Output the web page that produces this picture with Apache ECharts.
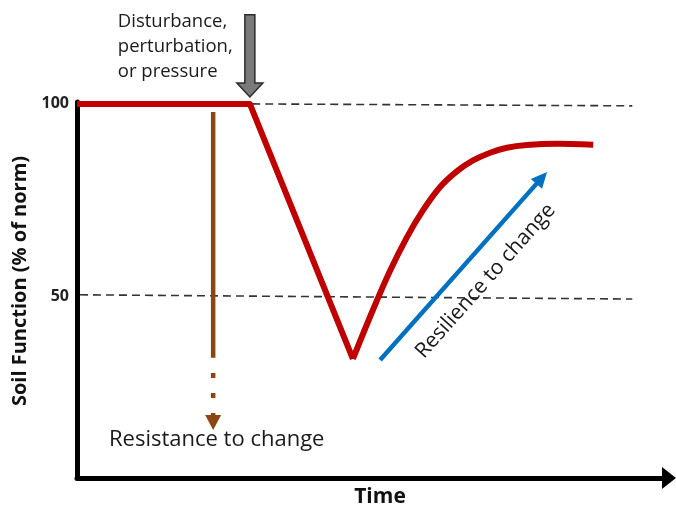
<!DOCTYPE html>
<html><head><meta charset="utf-8">
<script src="https://cdn.jsdelivr.net/npm/echarts@6/dist/echarts.min.js"></script>
<style>html,body{margin:0;padding:0;background:#fff}#c{width:676px;height:506px}</style>
</head><body><div id="c"></div>
<script>
// ---- data (time in arbitrary units 0..100, soil function in % of norm) ----
const yTickValues = [50, 100];
const declineX = [0, 29.2, 46.6];
const declineY = [100, 100, 33.6];
const recoveryX = [46.6, 50.0, 52.9, 55.7, 58.4, 61.3, 64.2, 66.9, 69.8, 72.6, 76.0, 81.1, 87.2];
const recoveryY = [33.6, 46.4, 56.6, 65.2, 72.2, 78.3, 82.5, 85.3, 87.3, 88.6, 89.3, 89.6, 89.4];
const refTopX = [29.6, 93.8];
const refTopY = [100, 99.5];
const refMidX = [0.5, 93.8];
const refMidY = [50.3, 49.2];
// arrows: [tailX, tailY, tipX, tipY]
const disturbArrow = [29.2, 123.2, 29.2, 101.8];
const resistSolid = [23.0, 97.9, 23.0, 33.9];
const resistDotted = [23.0, 29.95, 23.0, 15.1];
const resilArrow = [51.2, 33.3, 79.4, 82.3];
// notes
const noteText = ['Disturbance,\nperturbation,\nor pressure', 'Resistance to change', 'Resilience to change'];
const noteX = [6.9, 23.6, 69.0];
const noteY = [114.8, 12.5, 53.9];
const yName = 'Soil Function (% of norm)';
const xName = 'Time';

const FONT = '"Open Sans", "Noto Sans", sans-serif';

function zip(xs, ys) { return xs.map((x, i) => [x, ys[i]]); }

function arrowRender(o) {
  return function (params, api) {
    const p1 = api.coord([api.value(0), api.value(1)]);
    const p2 = api.coord([api.value(2), api.value(3)]);
    const dx = p2[0] - p1[0], dy = p2[1] - p1[1];
    const L = Math.hypot(dx, dy);
    const ux = dx / L, uy = dy / L, nx = -uy, ny = ux;
    const hl = o.headLen || 0, hw = (o.headWidth || 0) / 2;
    const base = [p2[0] - ux * hl, p2[1] - uy * hl];
    const children = [];
    if (o.block) {
      const sw = o.shaftWidth / 2;
      const pts = [
        [p1[0] + nx * sw, p1[1] + ny * sw],
        [base[0] + nx * sw, base[1] + ny * sw],
        [base[0] + nx * hw, base[1] + ny * hw],
        [p2[0], p2[1]],
        [base[0] - nx * hw, base[1] - ny * hw],
        [base[0] - nx * sw, base[1] - ny * sw],
        [p1[0] - nx * sw, p1[1] - ny * sw]
      ];
      children.push({ type: 'polygon', shape: { points: pts }, style: { fill: o.fill, stroke: o.stroke, lineWidth: o.strokeWidth } });
    } else {
      const end = hl ? [base[0] + ux * 1, base[1] + uy * 1] : p2;
      children.push({ type: 'line', shape: { x1: p1[0], y1: p1[1], x2: end[0], y2: end[1] },
        style: { stroke: o.color, lineWidth: o.shaftWidth, lineDash: o.dash || null, lineCap: 'butt' } });
      if (hl) {
        children.push({ type: 'polygon', shape: { points: [
          [base[0] + nx * hw, base[1] + ny * hw], [p2[0], p2[1]], [base[0] - nx * hw, base[1] - ny * hw]] },
          style: { fill: o.color } });
      }
    }
    return { type: 'group', children };
  };
}

function arrowSeries(data, o) {
  return { type: 'custom', renderItem: arrowRender(o), data: [data], clip: false, silent: true, z: o.z || 5,
    encode: { x: [0, 2], y: [1, 3] } };
}

const chart = echarts.init(document.getElementById('c'), null, { renderer: 'canvas' });
chart.setOption({
  animation: false,
  backgroundColor: '#ffffff',
  grid: { left: 77, right: 7, top: 102, bottom: 28, containLabel: false, outerBoundsMode: 'none' },
  xAxis: {
    type: 'value', min: 0, max: 100,
    name: xName, nameLocation: 'middle', nameGap: 9,
    nameTextStyle: { fontFamily: FONT, fontWeight: 'bold', fontSize: 21, color: '#111', verticalAlign: 'top',
      padding: [0, 0, 0, 14] },
    axisLine: { show: true, onZero: false, symbol: ['none', 'triangle'], symbolSize: [22, 14],
      lineStyle: { color: '#000', width: 5 } },
    axisTick: { show: false }, axisLabel: { show: false }, splitLine: { show: false }
  },
  yAxis: {
    type: 'value', min: 2.6, max: 100.5,
    name: yName, nameLocation: 'middle', nameGap: 43,
    nameTextStyle: { fontFamily: FONT, fontWeight: 'bold', fontSize: 20, color: '#111', padding: [0, 0, 0, 18] },
    axisLine: { show: true, onZero: false, lineStyle: { color: '#000', width: 5 } },
    axisTick: { show: false },
    axisLabel: { customValues: yTickValues, fontFamily: FONT, fontWeight: 'bold', fontSize: 16, color: '#222', margin: 8 },
    splitLine: { show: false }
  },
  series: [
    { type: 'line', data: zip(refTopX, refTopY), symbol: 'none', silent: true, z: 2,
      lineStyle: { color: '#333', width: 1.6, type: [8, 5] } },
    { type: 'line', data: zip(refMidX, refMidY), symbol: 'none', silent: true, z: 2,
      lineStyle: { color: '#333', width: 1.6, type: [8, 5] } },
    { type: 'line', data: zip(declineX, declineY), symbol: 'none', silent: true, z: 4, clip: false,
      lineStyle: { color: '#c00000', width: 6, join: 'round', cap: 'butt' } },
    { type: 'line', data: zip(recoveryX, recoveryY), symbol: 'none', smooth: 0.3, silent: true, z: 4,
      lineStyle: { color: '#c00000', width: 6, join: 'round', cap: 'butt' } },
    arrowSeries(disturbArrow, { block: true, shaftWidth: 10, headWidth: 26, headLen: 14, fill: '#7a7a7a', stroke: '#2b2b2b', strokeWidth: 1.5 }),
    arrowSeries(resistSolid, { shaftWidth: 4.5, color: '#8b4513' }),
    arrowSeries(resistDotted, { shaftWidth: 4.5, color: '#8b4513', dash: [5, 15], headLen: 15, headWidth: 16 }),
    arrowSeries(resilArrow, { shaftWidth: 4.5, color: '#0070c0', headLen: 16, headWidth: 15 }),
    {
      type: 'scatter', symbolSize: 0, clip: false, silent: true, z: 6,
      itemStyle: { opacity: 1 },
      data: [
        { value: [noteX[0], noteY[0]], label: { show: true, formatter: noteText[0], position: 'inside', align: 'left',
          verticalAlign: 'middle', fontFamily: FONT, fontSize: 18.5, lineHeight: 25, color: '#1a1a1a', opacity: 1 } },
        { value: [noteX[1], noteY[1]], label: { show: true, formatter: noteText[1], position: 'inside', align: 'center',
          verticalAlign: 'middle', fontFamily: FONT, fontSize: 22, color: '#1a1a1a', opacity: 1 } },
        { value: [noteX[2], noteY[2]], label: { show: true, formatter: noteText[2], position: 'inside', align: 'center',
          verticalAlign: 'middle', rotate: 48.4, fontFamily: FONT, fontSize: 21, color: '#1a1a1a', opacity: 1 } }
      ]
    }
  ]
});
</script></body></html>
